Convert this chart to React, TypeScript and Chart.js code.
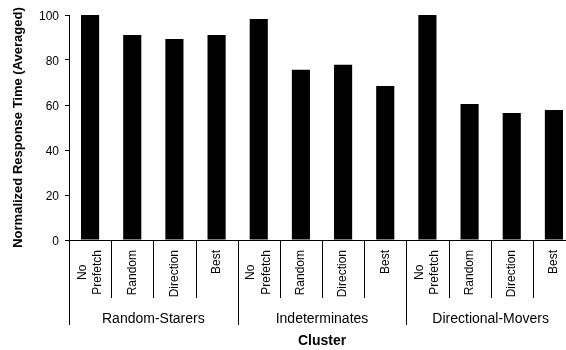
import React, { useEffect, useRef } from "react";
import { Chart, registerables } from "chart.js";

Chart.register(...registerables);

// ---- data ----
const strategies: string[][] = [["No", "Prefetch"], ["Random"], ["Direction"], ["Best"]];
const clusters: string[] = ["Random-Starers", "Indeterminates", "Directional-Movers"];
const responseTimes: number[] = [100, 91.1, 89.3, 91.1, 98.2, 75.7, 77.9, 68.4, 100, 60.4, 56.4, 57.8];
const yTickValues: number[] = [0, 20, 40, 60, 80, 100];
const yTitle = "Normalized Response Time (Averaged)";
const xTitle = "Cluster";

const FONT = "'Liberation Sans', Arial, Helvetica, sans-serif";
const TICK_FONT_SIZE = 12;

const categoryLabels: string[][] = clusters.flatMap(() => strategies);

const groupPlugin = {
  id: "clusterGroups",
  afterDraw(chart: any) {
    const xs = chart.scales.x;
    const ctx: CanvasRenderingContext2D = chart.ctx;
    const axisY = chart.chartArea.bottom;
    const n = categoryLabels.length;
    const size = strategies.length;
    ctx.save();
    // separators
    ctx.strokeStyle = "#000";
    ctx.lineWidth = 1;
    for (let i = 0; i <= n; i++) {
      const px = Math.round(xs.getPixelForValue(i - 0.5)) + 0.5;
      const len = i % size === 0 ? 85 : 58;
      ctx.beginPath();
      ctx.moveTo(px, axisY);
      ctx.lineTo(px, axisY + len);
      ctx.stroke();
    }
    ctx.fillStyle = "#000";
    // category labels (rotated, lines centred in block, block aligned to axis)
    ctx.font = `${TICK_FONT_SIZE}px ${FONT}`;
    const lh = 15.5;
    categoryLabels.forEach((lines, i) => {
      const cx = xs.getPixelForValue(i);
      const maxW = Math.max(...lines.map((l) => ctx.measureText(l).width));
      lines.forEach((line, j) => {
        const x = cx + (j - (lines.length - 1) / 2) * lh;
        ctx.save();
        ctx.translate(x, axisY + 10);
        ctx.rotate(-Math.PI / 2);
        ctx.textAlign = "center";
        ctx.textBaseline = "middle";
        ctx.fillText(line, -maxW / 2, 0);
        ctx.restore();
      });
    });
    // cluster labels
    ctx.font = `14px ${FONT}`;
    ctx.textAlign = "center";
    ctx.textBaseline = "alphabetic";
    clusters.forEach((name, g) => {
      const cx = xs.getPixelForValue(g * size + (size - 1) / 2);
      ctx.fillText(name, cx, axisY + 83);
    });
    ctx.restore();
  },
};

export default function App() {
  const ref = useRef<HTMLCanvasElement | null>(null);

  useEffect(() => {
    if (!ref.current) return;
    const chart = new Chart(ref.current, {
      type: "bar",
      data: {
        labels: categoryLabels.map((l) => l.join(" ")),
        datasets: [
          {
            data: responseTimes,
            backgroundColor: "#000",
            borderWidth: 0,
            barPercentage: 0.43,
            categoryPercentage: 1,
          },
        ],
      },
      options: {
        responsive: false,
        animation: false,
        layout: { padding: { top: 15, right: 5, left: 0, bottom: 0 } },
        plugins: { legend: { display: false }, tooltip: { enabled: false } },
        scales: {
          x: {
            grid: { display: false, drawTicks: false },
            border: { display: true, color: "#000", width: 1 },
            ticks: { display: false },
            title: {
              display: true,
              text: xTitle,
              color: "#000",
              font: { family: FONT, size: 14, weight: "bold" },
              padding: { top: 0, bottom: 0 },
            },
            afterFit: (s: any) => {
              s.height = 110;
            },
          },
          y: {
            min: 0,
            max: 100,
            afterBuildTicks: (s: any) => {
              s.ticks = yTickValues.map((v) => ({ value: v }));
            },
            grid: { drawOnChartArea: false, drawTicks: true, tickLength: 4, color: "#000" },
            border: { display: true, color: "#000", width: 1 },
            ticks: {
              padding: 6,
              labelOffset: 2,
              color: "#000",
              font: { family: FONT, size: TICK_FONT_SIZE },
            },
            title: {
              display: true,
              text: yTitle,
              color: "#000",
              font: { family: FONT, size: 13, weight: "bold" },
              padding: { top: 11, bottom: 0 },
            },
            afterFit: (s: any) => {
              s.width = 69;
            },
          },
        },
      },
      plugins: [groupPlugin],
    });
    return () => chart.destroy();
  }, []);

  return (
    <div
      style={{
        position: "fixed",
        left: 0,
        top: 0,
        width: 566,
        height: 350,
        overflow: "hidden",
        background: "#fff",
      }}
    >
      <canvas ref={ref} width={580} height={350} style={{ display: "block" }} />
    </div>
  );
}
